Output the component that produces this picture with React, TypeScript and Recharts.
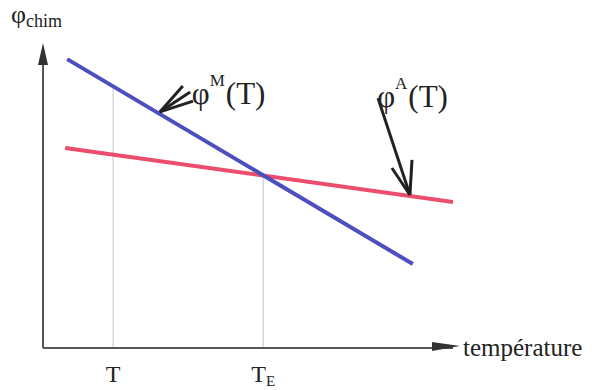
import React from 'react';
import { LineChart, Line, XAxis, YAxis, ReferenceLine, ReferenceDot } from 'recharts';

// chemical free energy vs temperature (arbitrary units)
const martensiteTemp = [5.9, 90.2];
const martensitePhi = [96.3, 28];
const austeniteTemp = [5.4, 100];
const austenitePhi = [66.7, 48.7];

// marked temperatures on the x axis
const tickTemps = [17.1, 53.7];
const tickNames = ['T', 'TE'];
// how high each guide line climbs (where it meets the curves)
const guideTops = [87, 57.5];

// pointer arrows: [tailT, tailPhi, tipT, tipPhi]
const arrowM = [
  [34.1, 87.3, 28.5, 78.7],
  [35.9, 85.3, 28.5, 78.7],
  [36.6, 82.3, 28.5, 78.7],
];
const arrowA = [
  [81.7, 83.3, 89.5, 51],
  [90, 62.7, 89.5, 51],
  [85.1, 60, 89.5, 51],
];

const FONT = "'Liberation Serif', 'Times New Roman', serif";
const AXIS = '#555';

const martensiteData = martensiteTemp.map((t, i) => ({ t, phi: martensitePhi[i] }));
const austeniteData = austeniteTemp.map((t, i) => ({ t, phi: austenitePhi[i] }));

const TempTick = ({ x, y, payload }: any) => {
  const idx = tickTemps.indexOf(payload.value);
  const name = tickNames[idx] || '';
  return (
    <text x={x} y={y + 26} textAnchor="middle" fontFamily={FONT} fontSize={24} fill="#222">
      {name.charAt(0)}
      {name.length > 1 && (
        <tspan fontFamily={FONT} fontSize={15} dy={4}>{name.slice(1)}</tspan>
      )}
    </text>
  );
};

const curveLabel = (sup: string) => ({ cx, cy }: any) => (
  <text x={cx} y={cy} fontFamily={FONT} fontSize={31} fill="#222">
    <tspan fontFamily={FONT}>φ</tspan>
    <tspan fontFamily={FONT} fontSize={17} dy={-18}>{sup}</tspan>
    <tspan fontFamily={FONT} fontSize={31} dy={18} dx={1}>(T)</tspan>
  </text>
);

const arrowRight = ({ cx, cy }: any) => (
  <polygon points={`${cx - 21},${cy - 6} ${cx + 7},${cy - 2} ${cx - 21},${cy + 3}`} fill="#333" />
);

const arrowUp = ({ cx, cy }: any) => (
  <polygon points={`${cx - 5},${cy + 17} ${cx},${cy - 5} ${cx + 5},${cy + 17}`} fill="#333" />
);

export default function App() {
  return (
    <div style={{ position: 'absolute', left: 0, top: 0, width: 598, height: 390, background: '#fff' }}>
      <LineChart
        width={598}
        height={390}
        margin={{ top: 48, right: 145, bottom: 0, left: 0 }}
      >
        <XAxis
          dataKey="t"
          type="number"
          domain={[0, 100]}
          ticks={tickTemps}
          tick={<TempTick />}
          tickLine={false}
          axisLine={{ stroke: AXIS, strokeWidth: 2 }}
          height={42}
          allowDataOverflow
        />
        <YAxis
          dataKey="phi"
          type="number"
          domain={[0, 100]}
          tick={false}
          tickLine={false}
          axisLine={{ stroke: AXIS, strokeWidth: 2 }}
          width={43}
          allowDataOverflow
        />

        {tickTemps.map((t, i) => (
          <ReferenceLine
            key={'g' + i}
            segment={[{ x: t, y: 0 }, { x: t, y: guideTops[i] }]}
            stroke="#c4c4c4"
            strokeWidth={1}
          />
        ))}

        <Line
          data={austeniteData}
          dataKey="phi"
          stroke="#ec4d6c"
          strokeWidth={4}
          dot={false}
          isAnimationActive={false}
        />
        <Line
          data={martensiteData}
          dataKey="phi"
          stroke="#4d4fbf"
          strokeWidth={4}
          dot={false}
          isAnimationActive={false}
        />

        {[...arrowM, ...arrowA].map((a, i) => (
          <ReferenceLine
            key={'a' + i}
            segment={[{ x: a[0], y: a[1] }, { x: a[2], y: a[3] }]}
            stroke="#222"
            strokeWidth={3}
            ifOverflow="visible"
          />
        ))}

        <ReferenceDot x={36.3} y={81.5} r={1} shape={curveLabel('M')} ifOverflow="visible" />
        <ReferenceDot x={81.5} y={80.5} r={1} shape={curveLabel('A')} ifOverflow="visible" />

        <ReferenceDot x={100} y={0} r={1} shape={arrowRight} ifOverflow="visible" />
        <ReferenceDot x={0} y={100} r={1} shape={arrowUp} ifOverflow="visible" />
      </LineChart>

      <div style={{ position: 'absolute', left: 11, top: 0, fontFamily: FONT, color: '#222', whiteSpace: 'nowrap' }}>
        <span style={{ fontSize: 26 }}>φ</span>
        <span style={{ fontSize: 18, position: 'relative', top: 4 }}>chim</span>
      </div>
      <div style={{ position: 'absolute', left: 463, top: 334, fontFamily: FONT, fontSize: 25, color: '#222', whiteSpace: 'nowrap' }}>
        température
      </div>
    </div>
  );
}
